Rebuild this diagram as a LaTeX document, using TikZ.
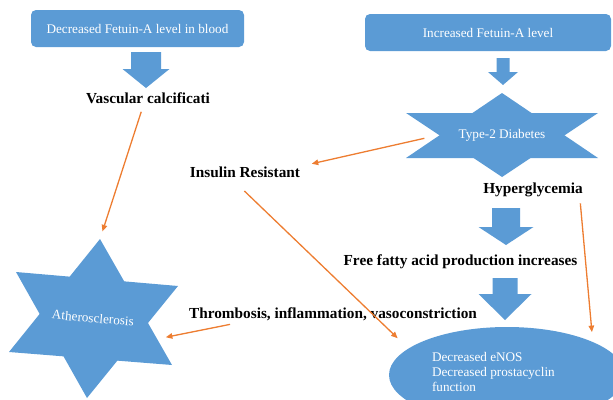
\documentclass[tikz,border=0pt]{standalone}
\usepackage{fontspec}
\setmainfont{Liberation Serif}
\usetikzlibrary{arrows.meta,shapes.geometric}
\definecolor{fblue}{HTML}{5B9BD5}
\definecolor{forange}{HTML}{ED7D31}
\tikzset{
  topbox/.style={draw=none, fill=fblue, rounded corners=5pt, inner sep=0pt, outer sep=0pt, text=white, font=\fontsize{13.2}{15}\selectfont},
  shapetext/.style={text=white, font=\fontsize{13.2}{15}\selectfont, inner sep=0pt, outer sep=0pt},
  boldlabel/.style={font=\fontsize{15.3}{18}\selectfont\bfseries, inner sep=0pt, outer sep=0pt, anchor=base},
  blockarrow/.style={fill=fblue, draw=none},
  starfill/.style={fill=fblue, draw=none},
  oarrow/.style={draw=forange, line width=1.3pt, -{Triangle[length=6.5pt,width=5.5pt]}},
}
\newcommand{\fatarrow}[6]{% cx, top, headstart, tip, shafthalf, headhalf
  \fill[blockarrow] (#1-#5,#2) -- (#1+#5,#2) -- (#1+#5,#3) -- (#1+#6,#3) -- (#1,#4) -- (#1-#6,#3) -- (#1-#5,#3) -- cycle;}
\begin{document}
\begin{tikzpicture}[x=1pt,y=-1pt]
\useasboundingbox (0,0) rectangle (613,399);
\clip (0,0) rectangle (613,399);

% top boxes
\node[topbox, minimum width=213pt, minimum height=37pt] (box1) at (137.5,28.5) {Decreased Fetuin-A level in blood};
\node[topbox, minimum width=246pt, minimum height=37pt] (box2) at (488,32.5) {Increased Fetuin-A level};

% block arrows
\fatarrow{146}{52}{69}{88}{15}{23.5}
\fatarrow{503}{58}{72}{85}{6.5}{15}
\fatarrow{506}{208}{227}{245}{14}{27.5}
\fatarrow{505}{278}{294}{320}{12.5}{26.5}

% Type-2 diabetes star
\fill[starfill] (502,93) -- (406,158) -- (598,158) -- cycle;
\fill[starfill] (502,177) -- (406,113) -- (598,113) -- cycle;
\coordinate (t2dL) at (439,135);
\node[shapetext] (t2d) at (502,135) {Type-2 Diabetes};

% Atherosclerosis star
\fill[starfill] (100,239) -- (9,352) -- (172,365) -- cycle;
\fill[starfill] (87,398) -- (16,272) -- (178,286) -- cycle;
\coordinate (athTop) at (100,239);
\coordinate (athR) at (157,339);
\node[shapetext, rotate=-5] (ath) at (93,318) {Atherosclerosis};

% ellipse
\node[ellipse, fill=fblue, draw=none, minimum width=236pt, minimum height=96pt, inner sep=0pt, outer sep=0pt] (enos) at (507,375) {};
\node[shapetext, anchor=north west, align=left] (enostext) at (432,352) {Decreased eNOS\\Decreased prostacyclin\\function};

% bold labels
\node[boldlabel] (vc) at (148,103) {Vascular calcificati};
\node[boldlabel] (ir) at (245,177) {Insulin Resistant};
\node[boldlabel] (hyp) at (533,193) {Hyperglycemia};
\node[boldlabel] (ffa) at (460.5,265) {Free fatty acid production increases};
\node[boldlabel] (thr) at (333,318) {Thrombosis, inflammation, vasoconstriction};

% orange connectors
\draw[oarrow, shorten <=9pt, shorten >=8pt] ([xshift=-4pt]vc.south) -- (athTop);
\draw[oarrow, shorten <=15pt, shorten >=12pt] (t2dL) -- (ir.north east);
\draw[oarrow, shorten <=20pt, shorten >=15pt] ([xshift=-15pt]ir.south) -- (enos.165);
\draw[oarrow, shorten <=7pt, shorten >=10pt] ([xshift=-3pt]hyp.south east) -- (enos.21);
\draw[oarrow, shorten >=9pt] ([xshift=41pt,yshift=-4pt]thr.south west) -- (athR);
\end{tikzpicture}
\end{document}
